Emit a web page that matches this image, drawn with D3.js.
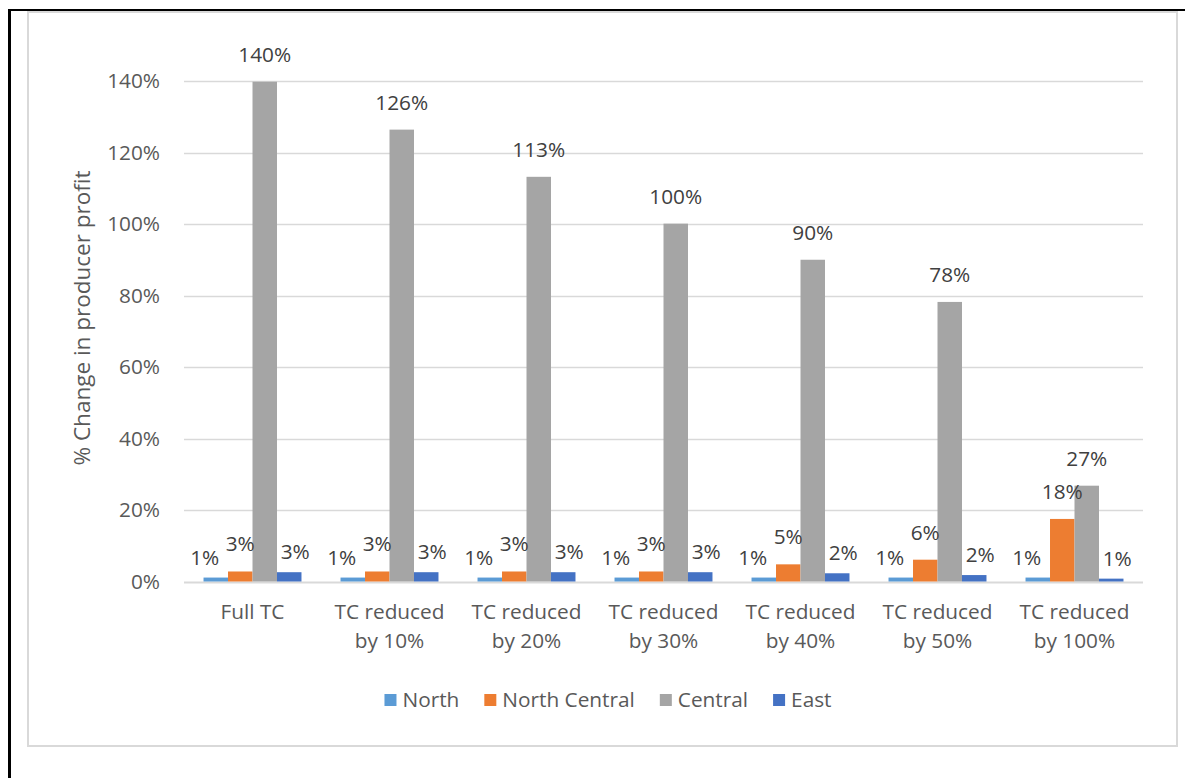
<!DOCTYPE html>
<html>
<head>
<meta charset="utf-8">
<script src="https://cdn.jsdelivr.net/npm/d3@7"></script>
<style>
  html, body { margin: 0; padding: 0; background: #fff; }
  svg { display: block; }
  text { font-family: "Open Sans", "Liberation Sans", sans-serif; }
</style>
</head>
<body>
<svg id="chart" width="1185" height="778"></svg>
<script>
// ---- Data ----
const categories = ["Full TC", "TC reduced by 10%", "TC reduced by 20%", "TC reduced by 30%",
                    "TC reduced by 40%", "TC reduced by 50%", "TC reduced by 100%"];
const seriesNames = ["North", "North Central", "Central", "East"];
const north        = [1.1, 1.1, 1.1, 1.1, 1.1, 1.1, 1.1];
const northCentral = [2.8, 2.8, 2.8, 2.8, 4.8, 6.1, 17.5];
const central      = [139.8, 126.4, 113.2, 100.1, 90.0, 78.2, 26.8];
const east         = [2.6, 2.6, 2.6, 2.6, 2.3, 1.8, 0.8];
const yTicks = [0, 20, 40, 60, 80, 100, 120, 140];
const yTitle = "% Change in producer profit";

const seriesValues = [north, northCentral, central, east];
const colors = ["#5B9BD5", "#ED7D31", "#A5A5A5", "#4472C4"];
// label offsets (dx, distance of label centre above bar top)
const labelOffsets = [[-11, 20], [0, 27], [0, 27], [6, 20]];
const FS = 20.8;

const svg = d3.select("#chart");

// outer frame lines
svg.append("line").attr("x1", 9.5).attr("x2", 9.5).attr("y1", 9).attr("y2", 778)
  .attr("stroke", "#000").attr("stroke-width", 3);
svg.append("line").attr("x1", 8).attr("x2", 1185).attr("y1", 10).attr("y2", 10)
  .attr("stroke", "#000").attr("stroke-width", 2);
// chart area border
svg.append("rect").attr("x", 28).attr("y", 12).attr("width", 1149).attr("height", 734)
  .attr("fill", "#fff").attr("stroke", "#D9D9D9").attr("stroke-width", 2);

const x0 = d3.scaleBand().domain(categories).range([184, 1143])
  .paddingInner(0.285).paddingOuter(0.1425);
const x1 = d3.scaleBand().domain(seriesNames).range([0, x0.bandwidth()]).padding(0);
const y = d3.scaleLinear().domain([0, 140]).range([581.5, 81]);

// gridlines
svg.append("g").selectAll("line").data(yTicks).join("line")
  .attr("x1", 184).attr("x2", 1143)
  .attr("y1", d => Math.round(y(d)) + 0.5).attr("y2", d => Math.round(y(d)) + 0.5)
  .attr("stroke", "#D9D9D9").attr("stroke-width", d => d === 0 ? 2 : 1.5);

// y tick labels
svg.append("g").selectAll("text").data(yTicks).join("text")
  .attr("x", 160).attr("y", d => y(d) + 7)
  .attr("text-anchor", "end").attr("font-size", FS).attr("fill", "#595959")
  .text(d => d + "%");

// y title
svg.append("text")
  .attr("transform", "translate(90,318) rotate(-90)")
  .attr("text-anchor", "middle").attr("font-size", 22.5).attr("fill", "#595959")
  .text(yTitle);

// bars
const groups = svg.append("g").selectAll("g").data(categories).join("g")
  .attr("transform", d => `translate(${x0(d)},0)`);

seriesNames.forEach((s, si) => {
  groups.append("rect")
    .attr("x", (d, i) => x1(s))
    .attr("width", x1.bandwidth())
    .attr("y", (d, i) => y(seriesValues[si][i]))
    .attr("height", (d, i) => y(0) - y(seriesValues[si][i]))
    .attr("fill", colors[si]);
});

// data labels
seriesNames.forEach((s, si) => {
  groups.append("text")
    .attr("x", (d, i) => x1(s) + x1.bandwidth() / 2 + labelOffsets[si][0])
    .attr("y", (d, i) => y(seriesValues[si][i]) - labelOffsets[si][1] + 7)
    .attr("text-anchor", "middle").attr("font-size", FS).attr("fill", "#404040")
    .text((d, i) => Math.round(seriesValues[si][i]) + "%");
});

// x category labels
const xl = svg.append("g").selectAll("text").data(categories).join("text")
  .attr("x", d => x0(d) + x0.bandwidth() / 2)
  .attr("y", 619)
  .attr("text-anchor", "middle").attr("font-size", FS).attr("fill", "#595959");
xl.each(function(d) {
  const k0 = d.indexOf(" by ");
  const parts = k0 >= 0 ? [d.slice(0, k0), d.slice(k0 + 1)] : [d];
  const t = d3.select(this);
  parts.forEach((p, k) => {
    t.append("tspan").attr("x", x0(d) + x0.bandwidth() / 2).attr("dy", k === 0 ? 0 : 29).text(p);
  });
});

// legend
const legend = svg.append("g");
let cx = 0;
seriesNames.forEach((s, si) => {
  const g = legend.append("g").attr("transform", `translate(${cx},0)`);
  g.append("rect").attr("x", 0).attr("y", 694).attr("width", 12).attr("height", 12).attr("fill", colors[si]);
  const t = g.append("text").attr("x", 18).attr("y", 707).attr("font-size", FS).attr("fill", "#595959").text(s);
  const w = t.node().getComputedTextLength();
  cx += 18 + w + 25;
});
const totalW = cx - 25;
legend.attr("transform", `translate(${608 - totalW / 2},0)`);
</script>
</body>
</html>
